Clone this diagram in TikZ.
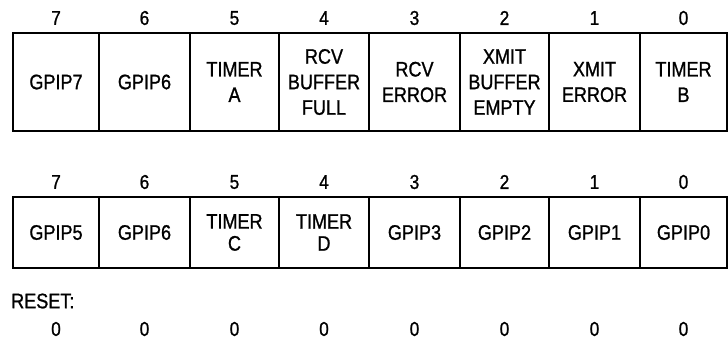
\documentclass[tikz,border=0pt]{standalone}
\usepackage{fontspec}
\setmainfont{Liberation Sans}[FakeStretch=0.86,FakeBold=1]
\begin{document}
\begin{tikzpicture}[x=1pt,y=-1pt,
  cell/.style={draw, line width=1.5pt, inner sep=0pt, align=center},
  topcell/.style={cell, minimum height=98pt, font=\fontsize{21}{25.5}\selectfont},
  botcell/.style={cell, minimum height=71pt, font=\fontsize{21}{22}\selectfont},
  num/.style={inner sep=0pt, font=\fontsize{20}{22}\selectfont}]
\useasboundingbox (0,0) rectangle (728,342);
\foreach \l/\r/\b/\t in {13/99/7/GPIP7, 99/190/6/GPIP6, 190/279/5/{TIMER\\A},
  279/369/4/{RCV\\BUFFER\\FULL}, 369/460/3/{RCV\\ERROR}, 460/549/2/{XMIT\\BUFFER\\EMPTY},
  549/640/1/{XMIT\\ERROR}, 640/727/0/{TIMER\\B}} {
  \node[topcell, minimum width={(\r-\l)*1pt}] (t\b) at ({(\l+\r)/2},82) {\t};
  \node[num] (tn\b) at ({(\l+\r)/2},18) {\b};
}
\foreach \l/\r/\b/\t in {13/99/7/GPIP5, 99/190/6/GPIP6, 190/279/5/{TIMER\\C},
  279/369/4/{TIMER\\D}, 369/460/3/GPIP3, 460/549/2/GPIP2,
  549/640/1/GPIP1, 640/727/0/GPIP0} {
  \node[botcell, minimum width={(\r-\l)*1pt}] (b\b) at ({(\l+\r)/2},232.5) {\t};
  \node[num] (bn\b) at ({(\l+\r)/2},182) {\b};
  \node[num] (r\b) at ({(\l+\r)/2},329) {0};
}
\node[num, anchor=west, font=\fontsize{21}{22}\selectfont] (reset) at (11,301) {RESET:};
\end{tikzpicture}
\end{document}
